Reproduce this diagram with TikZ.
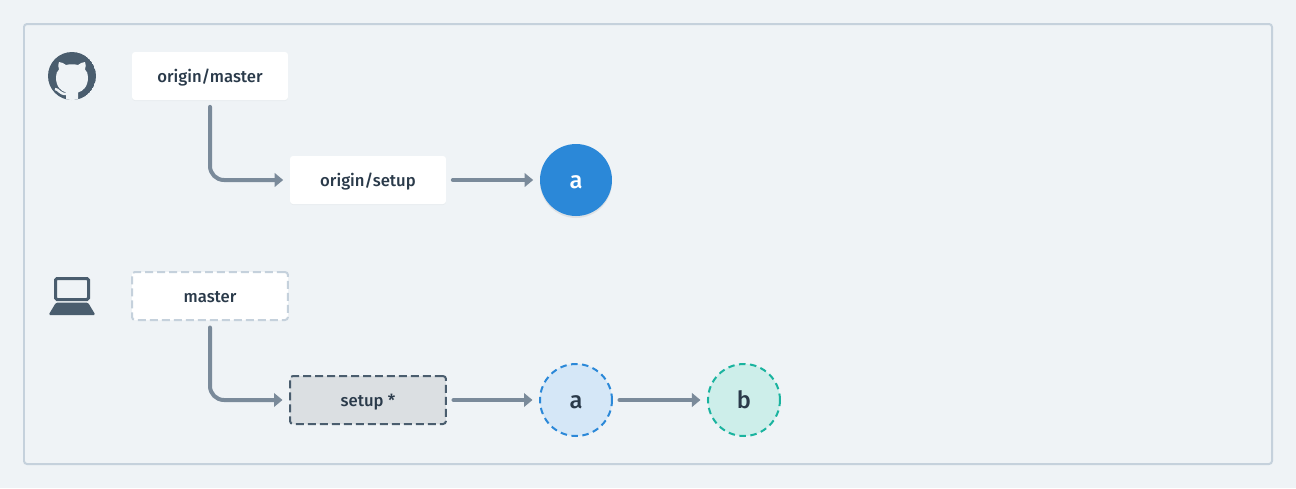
\documentclass[tikz,border=0pt]{standalone}
\usepackage{fontspec}
\setmainfont{Fira Sans Medium}
\usetikzlibrary{arrows.meta,positioning,shadows}

\definecolor{pagebg}{HTML}{EFF3F6}
\definecolor{framec}{HTML}{C5D1DC}
\definecolor{iconc}{HTML}{4A5D6E}
\definecolor{linec}{HTML}{7A8A9A}
\definecolor{textc}{HTML}{2A3A4A}
\definecolor{bluec}{HTML}{2B88D8}
\definecolor{tealc}{HTML}{1AB39F}

\tikzset{
  branch/.style={rectangle,rounded corners=0.06cm,minimum width=3.12cm,minimum height=0.96cm,
    inner sep=0pt,text height=9pt,text depth=1.8pt,font=\fontsize{9.5pt}{11pt}\selectfont,text=textc},
  remote/.style={branch,fill=white,drop shadow={opacity=0.06,shadow xshift=0cm,shadow yshift=-0.02cm}},
  local/.style={branch,fill=white,draw=framec,line width=0.04cm,dash pattern=on 0.16cm off 0.08cm},
  current/.style={branch,fill=iconc!20!white,draw=iconc,line width=0.04cm,dash pattern=on 0.16cm off 0.08cm},
  commit/.style={circle,minimum size=1.44cm,inner sep=0pt,text height=11pt,text depth=0.8pt,
    font=\fontsize{13.5pt}{15pt}\selectfont},
  flow/.style={draw=linec,line width=0.08cm,line cap=round,-{Triangle[length=0.17cm,width=0.27cm]},
    shorten >=0.13cm,shorten <=0.13cm},
  elbow/.style={flow,rounded corners=0.28cm}
}

\begin{document}
\begin{tikzpicture}[x=0.02cm,y=-0.02cm]
  % page and frame
  \fill[pagebg] (0,0) rectangle (1296,488);
  \useasboundingbox (0,0) rectangle (1296,488);
  \draw[framec,line width=0.04cm,rounded corners=0.06cm] (24,24) rectangle (1272,464);

  % github icon
  \begin{scope}
    \clip (72,76) circle (24);
    \fill[iconc] (72,76) circle (24);
    \fill[pagebg]
      (66,101) -- (66,92.5) .. controls (61,91) and (56,87) .. (56,77)
      .. controls (56,73.5) and (57,71.5) .. (59,69.5)
      .. controls (58,67) and (58,64) .. (59,62)
      .. controls (61.5,62) and (64,63.5) .. (66,65)
      .. controls (70,64) and (74,64) .. (78,65)
      .. controls (80,63.5) and (82.5,62) .. (85,62)
      .. controls (86,64) and (86,67) .. (85,69.5)
      .. controls (87,71.5) and (88,73.5) .. (88,77)
      .. controls (88,87) and (83,91) .. (78,92.5) -- (78,101) -- cycle;
    \draw[pagebg,line width=0.05cm] (55,89) .. controls (59,89) and (59,94) .. (66,94);
  \end{scope}

  % laptop icon
  \draw[iconc,line width=0.06cm,rounded corners=0.03cm] (55.5,278.5) rectangle (88.5,299.5);
  \fill[iconc,rounded corners=0.03cm] (56,302.5) -- (88,302.5) -- (95.5,315) -- (48.5,315) -- cycle;

  % remote row
  \node[remote] (originmaster) at (210,76) {origin/master};
  \node[remote] (originsetup) at (368,180) {origin/setup};
  \node[commit,fill=bluec,text=white,drop shadow={opacity=0.15,shadow xshift=0cm,shadow yshift=-0.04cm}]
    (remotea) at (576,180) {a};

  % local row
  \node[local] (master) at (210,296) {master};
  \node[current] (setup) at (368,400) {setup *};
  \node[commit,fill=bluec!20!white,draw=bluec,line width=0.04cm,dash pattern=on 0.13cm off 0.09cm,text=textc]
    (locala) at (576,400) {a};
  \node[commit,fill=tealc!22!white,draw=tealc,line width=0.04cm,dash pattern=on 0.13cm off 0.09cm,text=textc,
    right=1.88cm of locala] (localb) {b};

  % connectors
  \draw[elbow] (originmaster.south) |- (originsetup.west);
  \draw[flow] (originsetup) -- (remotea);
  \draw[elbow] (master.south) |- (setup.west);
  \draw[flow] (setup) -- (locala);
  \draw[flow] (locala) -- (localb);
\end{tikzpicture}
\end{document}
